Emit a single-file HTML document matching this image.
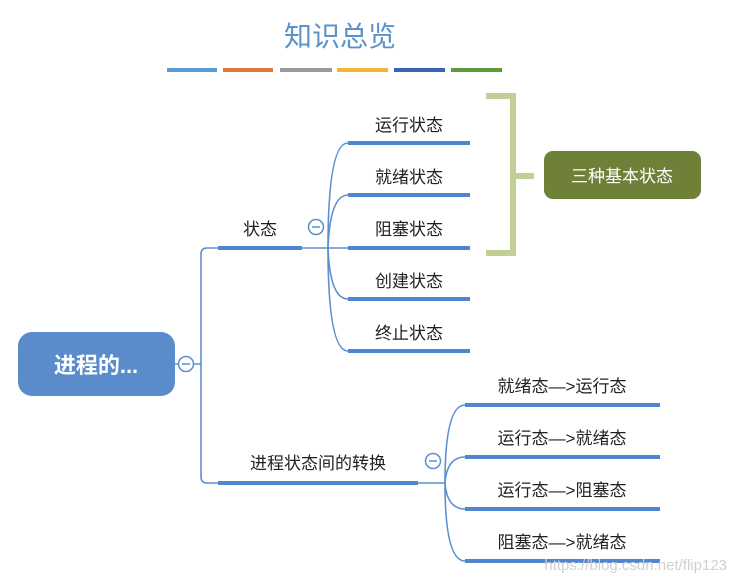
<!DOCTYPE html>
<html><head><meta charset="utf-8"><style>
html,body{margin:0;padding:0;background:#fff;width:734px;height:581px;overflow:hidden}
svg{display:block}
text{font-family:"Liberation Sans","Noto Sans CJK SC",sans-serif}
</style></head><body>
<svg width="734" height="581" viewBox="0 0 734 581" xmlns="http://www.w3.org/2000/svg">
<text x="340" y="46" font-size="28" fill="#5b93c9" text-anchor="middle">知识总览</text>
<g stroke-width="4" stroke-linecap="butt">
<line x1="167" y1="70" x2="217" y2="70" stroke="#5b9bd5"/>
<line x1="223" y1="70" x2="273" y2="70" stroke="#e07838"/>
<line x1="280" y1="70" x2="332" y2="70" stroke="#9a9a9a"/>
<line x1="337" y1="70" x2="388" y2="70" stroke="#f2b535"/>
<line x1="394" y1="70" x2="445" y2="70" stroke="#3b62ad"/>
<line x1="451" y1="70" x2="502" y2="70" stroke="#5f9a3c"/>
</g>
<!-- bracket -->
<path d="M486 96 H513 V253 H486 M513 176 H534" fill="none" stroke="#c0cf95" stroke-width="6"/>
<rect x="544" y="151" width="157" height="48" rx="9" fill="#6f8139"/>
<text x="622" y="182" font-size="17" fill="#fff" text-anchor="middle">三种基本状态</text>
<!-- root -->
<rect x="18" y="332" width="157" height="64" rx="14" fill="#5a8ccb"/>
<text x="96" y="373" font-size="22" font-weight="bold" fill="#fff" text-anchor="middle">进程的...</text>
<g fill="none" stroke="#5b8fd0" stroke-width="1.6">
<line x1="175" y1="364" x2="201" y2="364"/>
<path d="M218 248 H207 Q201 248 201 254 V477 Q201 483 207 483 H218"/>
<line x1="302" y1="248" x2="348" y2="248"/>
<path d="M328 248 Q328 143 348 143"/>
<path d="M328 248 Q330 195 348 195"/>
<path d="M328 248 Q330 299 348 299"/>
<path d="M328 248 Q328 351 348 351"/>
<line x1="418" y1="483" x2="445" y2="483"/>
<path d="M445 483 Q445 405 465 405"/>
<path d="M445 483 Q447 457 465 457"/>
<path d="M445 483 Q447 509 465 509"/>
<path d="M445 483 Q445 561 465 561"/>
</g>
<g fill="#fff" stroke="#5b8fd0" stroke-width="1.5">
<circle cx="186" cy="364" r="7.5"/><circle cx="316" cy="227" r="7.5"/><circle cx="433" cy="461" r="7.5"/>
</g>
<g stroke="#5b8fd0" stroke-width="1.5">
<line x1="182" y1="364" x2="190" y2="364"/><line x1="312" y1="227" x2="320" y2="227"/><line x1="429" y1="461" x2="437" y2="461"/>
</g>
<g stroke="#4f86cf" stroke-width="4">
<line x1="218" y1="248" x2="302" y2="248"/>
<line x1="218" y1="483" x2="418" y2="483"/>
<line x1="348" y1="143" x2="470" y2="143"/>
<line x1="348" y1="195" x2="470" y2="195"/>
<line x1="348" y1="248" x2="470" y2="248"/>
<line x1="348" y1="299" x2="470" y2="299"/>
<line x1="348" y1="351" x2="470" y2="351"/>
<line x1="465" y1="405" x2="660" y2="405"/>
<line x1="465" y1="457" x2="660" y2="457"/>
<line x1="465" y1="509" x2="660" y2="509"/>
<line x1="465" y1="561" x2="660" y2="561"/>
</g>
<g font-size="17" fill="#222" text-anchor="middle">
<text x="260" y="235">状态</text>
<text x="318" y="469">进程状态间的转换</text>
<text x="409" y="131">运行状态</text>
<text x="409" y="183">就绪状态</text>
<text x="409" y="235">阻塞状态</text>
<text x="409" y="287">创建状态</text>
<text x="409" y="339">终止状态</text>
<text x="562" y="392">就绪态—&gt;运行态</text>
<text x="562" y="444">运行态—&gt;就绪态</text>
<text x="562" y="496">运行态—&gt;阻塞态</text>
<text x="562" y="548">阻塞态—&gt;就绪态</text>
</g>
<text x="727" y="570" font-size="15" fill="#d0d0d0" text-anchor="end">https://blog.csdn.net/flip123</text>
</svg>
</body></html>
